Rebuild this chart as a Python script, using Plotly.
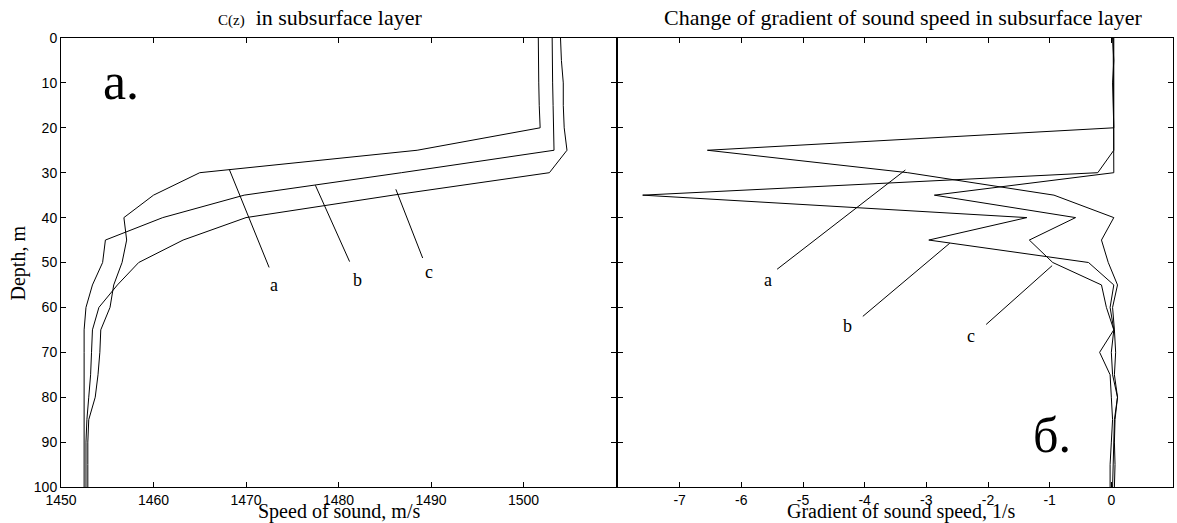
import plotly.graph_objects as go

depth = [0, 5, 10, 15, 20, 25, 30, 35, 40, 45, 50, 55, 60, 65, 70, 75, 80, 85, 90, 95, 100]

speed_a = [1501.6, 1501.6, 1501.65, 1501.7, 1501.8, 1488.5, 1465.0, 1460.0, 1456.8, 1457.1, 1456.6,
           1455.7, 1455.3, 1454.3, 1454.2, 1454.0, 1453.7, 1453.0, 1452.9, 1452.9, 1452.9]
speed_b = [1503.1, 1503.1, 1503.15, 1503.2, 1503.25, 1503.3, 1486.8, 1469.8, 1461.0, 1454.8, 1454.5,
           1453.4, 1452.7, 1452.5, 1452.5, 1452.5, 1452.5, 1452.5, 1452.5, 1452.5, 1452.5]
speed_c = [1504.0, 1504.1, 1504.3, 1504.3, 1504.4, 1504.7, 1502.8, 1485.9, 1470.0, 1463.2, 1458.4,
           1456.1, 1454.1, 1453.4, 1453.3, 1453.2, 1453.0, 1452.8, 1452.7, 1452.7, 1452.7]

grad_a = [0.02, 0.04, 0.02, 0.03, 0.04, -6.55, -3.3, -0.93, 0.04, -0.16, -0.05,
          0.1, 0.02, 0.05, 0.07, 0.05, 0.1, 0.05, 0.04, 0.03, 0.02]
grad_b = [0.04, 0.04, 0.04, 0.04, 0.04, 0.04, -0.22, -7.6, -1.37, -2.96, -0.37,
          0.04, -0.02, 0.04, -0.19, -0.02, 0.0, 0.02, 0.0, -0.02, -0.02]
grad_c = [0.03, 0.03, 0.03, 0.03, 0.03, 0.03, 0.04, -2.87, -0.58, -1.33, -0.95,
          -0.16, -0.08, 0.04, 0.0, 0.02, 0.1, 0.06, 0.05, 0.06, 0.05]

speed_ticks = [1450, 1460, 1470, 1480, 1490, 1500, 1510]
speed_ticktext = ["1450", "1460", "1470", "1480", "1490", "1500", ""]
grad_ticks = [-8, -7, -6, -5, -4, -3, -2, -1, 0, 1]
grad_ticktext = ["", "-7", "-6", "-5", "-4", "-3", "-2", "-1", "0", "1"]
depth_ticks = [0, 10, 20, 30, 40, 50, 60, 70, 80, 90, 100]

# leader lines for curve labels and label positions
left_labels = ["a", "b", "c"]
left_lead_x = [[1468.2, 1472.5], [1477.5, 1481.2], [1486.2, 1489.1]]
left_lead_y = [[29.3, 51.1], [32.8, 49.8], [33.7, 49.0]]
left_lab_x = [1473.0, 1482.0, 1489.8]
left_lab_y = [55.0, 54.0, 52.2]

right_labels = ["a", "b", "c"]
right_lead_x = [[-3.34, -5.42], [-2.62, -4.03], [-0.96, -2.03]]
right_lead_y = [[29.4, 51.5], [45.7, 62.0], [50.7, 63.8]]
right_lab_x = [-5.57, -4.28, -2.27]
right_lab_y = [53.8, 64.2, 66.3]

serif = "Liberation Serif"
sans = "Liberation Sans"
line_style = dict(color="black", width=1)

fig = go.Figure()
for s in (speed_a, speed_b, speed_c):
    fig.add_trace(go.Scatter(x=s, y=depth, mode="lines", line=line_style,
                             xaxis="x", yaxis="y", showlegend=False, hoverinfo="skip"))
for g in (grad_a, grad_b, grad_c):
    fig.add_trace(go.Scatter(x=g, y=depth, mode="lines", line=line_style,
                             xaxis="x2", yaxis="y2", showlegend=False, hoverinfo="skip"))
for lx, ly in zip(left_lead_x, left_lead_y):
    fig.add_trace(go.Scatter(x=lx, y=ly, mode="lines", line=line_style,
                             xaxis="x", yaxis="y", showlegend=False, hoverinfo="skip"))
for lx, ly in zip(right_lead_x, right_lead_y):
    fig.add_trace(go.Scatter(x=lx, y=ly, mode="lines", line=line_style,
                             xaxis="x2", yaxis="y2", showlegend=False, hoverinfo="skip"))

annotations = []
for t, x, y in zip(left_labels, left_lab_x, left_lab_y):
    annotations.append(dict(text=t, x=x, y=y, xref="x", yref="y", showarrow=False,
                            font=dict(family=serif, size=18, color="black")))
for t, x, y in zip(right_labels, right_lab_x, right_lab_y):
    annotations.append(dict(text=t, x=x, y=y, xref="x2", yref="y2", showarrow=False,
                            font=dict(family=serif, size=18, color="black")))
annotations.append(dict(text="a.", x=1456.5, y=9.6, xref="x", yref="y", showarrow=False,
                        font=dict(family=serif, size=52, color="black")))
annotations.append(dict(text="б.", x=-0.97, y=88.5, xref="x2", yref="y2", showarrow=False,
                        font=dict(family=serif, size=50, color="black")))
annotations.append(dict(text="<span style='font-size:15px'>C(z)</span>&nbsp; in subsurface layer",
                        x=0.2329, y=1.0, xref="paper", yref="paper",
                        xanchor="center", yanchor="bottom", yshift=6, showarrow=False,
                        font=dict(family=serif, size=22, color="black")))
annotations.append(dict(text="Change of gradient of sound speed in subsurface layer", x=0.7572, y=1.0,
                        xref="paper", yref="paper", xanchor="center", yanchor="bottom", yshift=6,
                        showarrow=False, font=dict(family=serif, size=22, color="black")))
annotations.append(dict(text="Speed of sound, m/s", x=0.2496, y=0, xref="paper", yref="paper",
                        xanchor="center", yanchor="top", yshift=-11, showarrow=False,
                        font=dict(family=serif, size=20, color="black")))
annotations.append(dict(text="Gradient of sound speed, 1/s", x=0.7554, y=0, xref="paper", yref="paper",
                        xanchor="center", yanchor="top", yshift=-11, showarrow=False,
                        font=dict(family=serif, size=20, color="black")))
annotations.append(dict(text="Depth, m", x=-0.0378, y=0.5, xref="paper", yref="paper", textangle=-90,
                        xanchor="center", yanchor="middle", showarrow=False,
                        font=dict(family=serif, size=20, color="black")))

axis_common = dict(showline=True, linecolor="black", linewidth=1, mirror="ticks",
                   ticks="inside", ticklen=5, tickcolor="black", tickwidth=1,
                   showgrid=False, zeroline=False,
                   tickfont=dict(family=sans, size=14, color="black"))

fig.update_layout(
    width=1177, height=523,
    margin=dict(l=61, r=4, t=38, b=36),
    paper_bgcolor="white", plot_bgcolor="white",
    annotations=annotations,
    xaxis=dict(domain=[0, 0.4991], range=[1450, 1510], tickvals=speed_ticks, ticktext=speed_ticktext,
               anchor="y", **axis_common),
    yaxis=dict(domain=[0, 1], range=[100, 0], tickvals=depth_ticks, anchor="x", **axis_common),
    xaxis2=dict(domain=[0.5009, 1], range=[-8, 1], tickvals=grad_ticks, ticktext=grad_ticktext,
                anchor="y2", **axis_common),
    yaxis2=dict(domain=[0, 1], range=[100, 0], tickvals=depth_ticks, showticklabels=False,
                anchor="x2", **axis_common),
)

fig.write_html("out.html", config={"displayModeBar": False},
               post_script="document.body.style.margin='0';document.body.style.overflow='hidden';")
